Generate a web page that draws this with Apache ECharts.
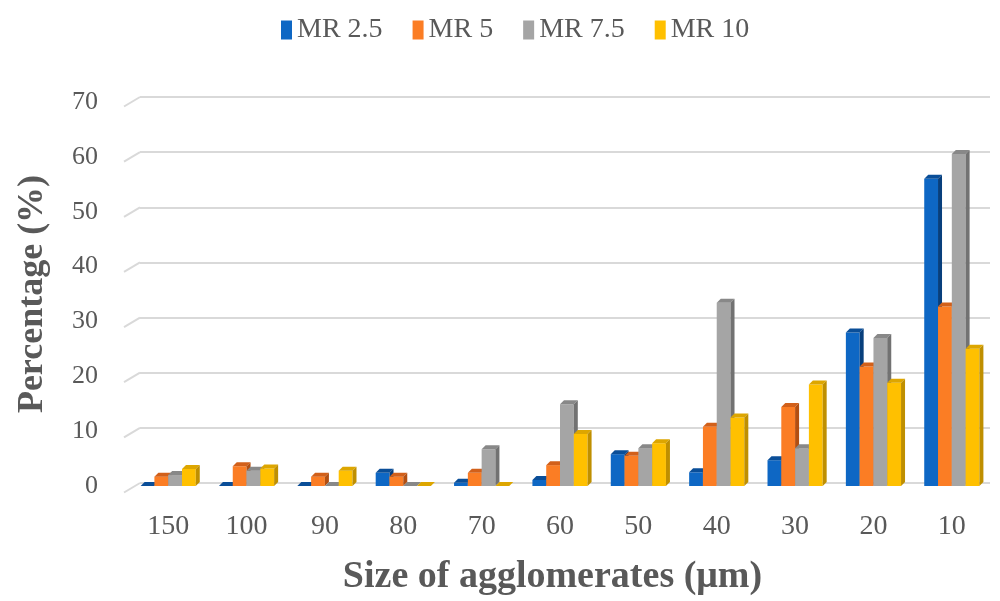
<!DOCTYPE html>
<html><head><meta charset="utf-8">
<script src="https://cdn.jsdelivr.net/npm/echarts@6/dist/echarts.min.js"></script>
<style>html,body{margin:0;padding:0;background:#fff}#c{width:1000px;height:601px}</style>
</head><body><div id="c"></div>
<script>
var categories = ['150','100','90','80','70','60','50','40','30','20','10'];
var mr25  = [0, 0, 0, 2.4, 0.6, 1.1, 5.8, 2.5, 4.7, 28.0, 56.0];
var mr5   = [1.7, 3.6, 1.7, 1.7, 2.4, 3.8, 5.5, 10.8, 14.4, 21.8, 32.7];
var mr75  = [2.0, 2.8, 0, 0, 6.7, 14.9, 6.9, 33.4, 6.9, 27.0, 60.5];
var mr10  = [3.1, 3.2, 2.8, 0, 0, 9.5, 7.8, 12.5, 18.5, 18.8, 25.0];
var yTicks = [0, 10, 20, 30, 40, 50, 60, 70];
var seriesNames = ['MR 2.5', 'MR 5', 'MR 7.5', 'MR 10'];

var FONT = 'Liberation Serif';
var TXT = '#595959';
var palette = [
  {front:'#0E67C4', top:'#0A4E98', side:'#083F7C'},
  {front:'#FB7D24', top:'#D2601A', side:'#B24F12'},
  {front:'#A5A5A5', top:'#888888', side:'#727272'},
  {front:'#FFC000', top:'#DDA600', side:'#BF8F00'}
];

function makeRender(idx) {
  var c = palette[idx];
  return function (params, api) {
    var cat = api.value(0), val = api.value(1);
    var base = api.coord([cat, 0]);
    var top = api.coord([cat, val]);
    var band = api.size([1, 0])[0];
    var bw = band * 0.176;
    var x0 = base[0] - 2 * bw + idx * bw;
    var x1 = x0 + bw;
    var yb = base[1], yt = top[1];
    var dx = 4, dy = 4;
    return {type: 'group', children: [
      {type: 'rect', shape: {x: x0, y: yt, width: bw, height: yb - yt}, style: {fill: c.front}},
      {type: 'polygon', shape: {points: [[x0, yt], [x1, yt], [x1 + dx, yt - dy], [x0 + dx, yt - dy]]}, style: {fill: c.top}},
      {type: 'polygon', shape: {points: [[x1, yt], [x1 + dx, yt - dy], [x1 + dx, yb - dy], [x1, yb]]}, style: {fill: c.side}}
    ]};
  };
}

var allVals = [mr25, mr5, mr75, mr10];
var series = allVals.map(function (vals, i) {
  return {
    name: seriesNames[i], type: 'custom', xAxisIndex: 0, yAxisIndex: 0,
    renderItem: makeRender(i),
    itemStyle: {color: palette[i].front},
    encode: {x: 0, y: 1},
    data: vals.map(function (v, k) { return [k, v]; }),
    z: 3
  };
});
// back-wall diagonal stubs of the gridlines
series.push({
  type: 'custom', xAxisIndex: 1, yAxisIndex: 1, silent: true,
  renderItem: function (params, api) {
    var p = api.coord([0, api.value(0)]);
    return {type: 'line', shape: {x1: p[0] - 16, y1: p[1] + 9.5, x2: p[0], y2: p[1]},
      style: {stroke: '#D9D9D9', lineWidth: 2}};
  },
  encode: {y: 0},
  data: yTicks.map(function (t) { return [t]; }),
  z: 1
});

var chart = echarts.init(document.getElementById('c'));
chart.setOption({
  animation: false,
  backgroundColor: '#fff',
  legend: {
    left: 276, top: 11, itemWidth: 11, itemHeight: 19, itemGap: 30, icon: 'rect',
    data: seriesNames,
    textStyle: {fontFamily: FONT, fontSize: 28, color: TXT}
  },
  grid: [
    {left: 129, right: 9, top: 102, bottom: 115},
    {left: 140, right: 10, top: 97, bottom: 118}
  ],
  xAxis: [
    {type: 'category', gridIndex: 0, data: categories,
      axisLine: {show: false}, axisTick: {show: false}, splitLine: {show: false},
      axisLabel: {fontFamily: FONT, fontSize: 28, color: TXT, margin: 27},
      name: 'Size of agglomerates (\u03bcm)', nameLocation: 'middle', nameGap: 72,
      nameTextStyle: {fontFamily: FONT, fontSize: 38, fontWeight: 'bold', color: TXT, padding: [0, 15, 0, 0]}
    },
    {type: 'value', gridIndex: 1, min: 0, max: 1, show: false}
  ],
  yAxis: [
    {type: 'value', gridIndex: 0, min: 0, max: 70, interval: 10,
      axisLine: {show: false}, axisTick: {show: false}, splitLine: {show: false},
      axisLabel: {fontFamily: FONT, fontSize: 26, color: TXT, margin: 31, padding: [8, 0, 0, 0]},
      name: 'Percentage (%)', nameLocation: 'middle', nameGap: 78,
      nameTextStyle: {fontFamily: FONT, fontSize: 36, fontWeight: 'bold', color: TXT}
    },
    {type: 'value', gridIndex: 1, min: 0, max: 70, interval: 10,
      axisLine: {show: false}, axisTick: {show: false}, axisLabel: {show: false},
      splitLine: {show: true, lineStyle: {color: '#D9D9D9', width: 2}}
    }
  ],
  series: series
});
</script>
</body></html>
